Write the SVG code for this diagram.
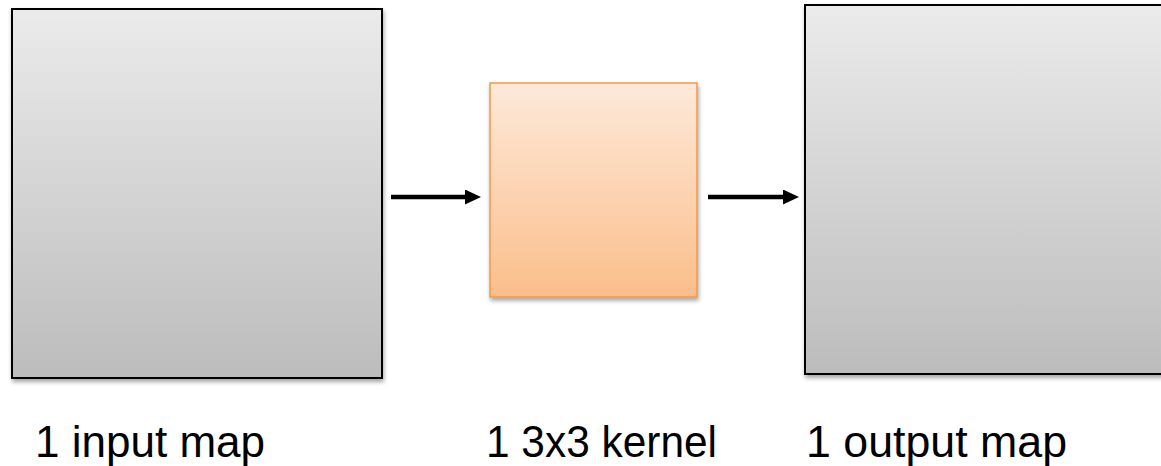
<svg xmlns="http://www.w3.org/2000/svg" width="1161" height="466" viewBox="0 0 1161 466">
  <style>
    .map { fill: url(#greyGrad); stroke: #000; stroke-width: 2; filter: url(#shadow); }
    .kernel { fill: url(#orangeGrad); stroke: #F79646; stroke-width: 1.5; filter: url(#shadow); }
    .conn { stroke: #000; stroke-width: 4.5; fill: none; marker-end: url(#arrow); }
    .label { font-family: "Liberation Sans", Arial, sans-serif; font-size: 45px; fill: #000; }
  </style>
  <defs>
    <linearGradient id="greyGrad" x1="0" y1="0" x2="0" y2="1">
      <stop offset="0" stop-color="#EBEBEB"/>
      <stop offset="1" stop-color="#BCBCBC"/>
    </linearGradient>
    <linearGradient id="orangeGrad" x1="0" y1="0" x2="0" y2="1">
      <stop offset="0" stop-color="#FDE9D9"/>
      <stop offset="1" stop-color="#FBBE8B"/>
    </linearGradient>
    <filter id="shadow" x="-10%" y="-10%" width="130%" height="130%">
      <feDropShadow dx="1" dy="3" stdDeviation="2" flood-color="#000" flood-opacity="0.35"/>
    </filter>
    <marker id="arrow" markerWidth="16" markerHeight="16" refX="5" refY="7.5" orient="auto" markerUnits="userSpaceOnUse">
      <path d="M0,0 L16,7.5 L0,15 Z" fill="#000"/>
    </marker>
  </defs>
  <g id="connectors">
    <line class="conn" x1="391" y1="197" x2="470" y2="197"/>
    <line class="conn" x1="708" y1="197" x2="788" y2="197"/>
  </g>
  <g id="input-map">
    <rect class="map" x="12" y="9" width="370" height="369"/>
    <text class="label" x="35" y="457" textLength="230" lengthAdjust="spacingAndGlyphs">1 input map</text>
  </g>
  <g id="kernel">
    <rect class="kernel" x="490" y="83" width="207" height="214"/>
    <text class="label" x="486" y="457" textLength="231" lengthAdjust="spacingAndGlyphs">1 3x3 kernel</text>
  </g>
  <g id="output-map">
    <rect class="map" x="805" y="5" width="370" height="369"/>
    <text class="label" x="806" y="457" textLength="261" lengthAdjust="spacingAndGlyphs">1 output map</text>
  </g>
</svg>
